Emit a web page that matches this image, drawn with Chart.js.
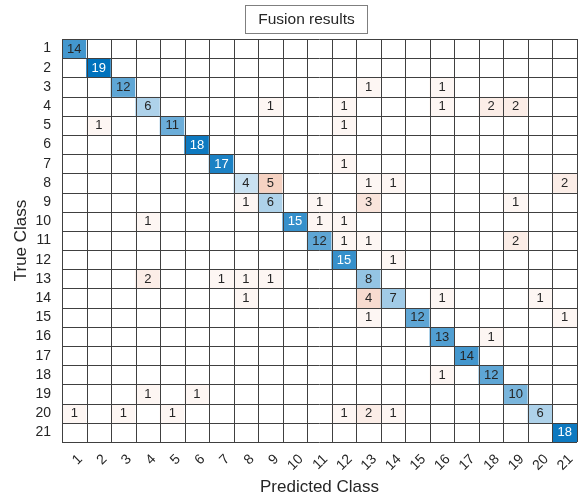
<!DOCTYPE html>
<html>
<head>
<meta charset="utf-8">
<script src="https://cdn.jsdelivr.net/npm/chart.js@4.4.1/dist/chart.umd.min.js"></script>
<style>
  html, body { margin: 0; padding: 0; background: #fff; }
  #wrap { position: relative; width: 580px; height: 498px; }
</style>
</head>
<body>
<div id="wrap"><canvas id="cm"></canvas></div>
<script>
// Clases (etiquetas de ambos ejes)
const classLabels = ['1','2','3','4','5','6','7','8','9','10','11','12','13','14','15','16','17','18','19','20','21'];
const chartTitle = 'Fusion results';
const xTitle = 'Predicted Class';
const yTitle = 'True Class';

// Matriz de confusión: fila = clase real, columna = clase predicha
const counts = [
  [14,0,0,0,0,0,0,0,0,0,0,0,0,0,0,0,0,0,0,0,0],
  [0,19,0,0,0,0,0,0,0,0,0,0,0,0,0,0,0,0,0,0,0],
  [0,0,12,0,0,0,0,0,0,0,0,0,1,0,0,1,0,0,0,0,0],
  [0,0,0,6,0,0,0,0,1,0,0,1,0,0,0,1,0,2,2,0,0],
  [0,1,0,0,11,0,0,0,0,0,0,1,0,0,0,0,0,0,0,0,0],
  [0,0,0,0,0,18,0,0,0,0,0,0,0,0,0,0,0,0,0,0,0],
  [0,0,0,0,0,0,17,0,0,0,0,1,0,0,0,0,0,0,0,0,0],
  [0,0,0,0,0,0,0,4,5,0,0,0,1,1,0,0,0,0,0,0,2],
  [0,0,0,0,0,0,0,1,6,0,1,0,3,0,0,0,0,0,1,0,0],
  [0,0,0,1,0,0,0,0,0,15,1,1,0,0,0,0,0,0,0,0,0],
  [0,0,0,0,0,0,0,0,0,0,12,1,1,0,0,0,0,0,2,0,0],
  [0,0,0,0,0,0,0,0,0,0,0,15,0,1,0,0,0,0,0,0,0],
  [0,0,0,2,0,0,1,1,1,0,0,0,8,0,0,0,0,0,0,0,0],
  [0,0,0,0,0,0,0,1,0,0,0,0,4,7,0,1,0,0,0,1,0],
  [0,0,0,0,0,0,0,0,0,0,0,0,1,0,12,0,0,0,0,0,1],
  [0,0,0,0,0,0,0,0,0,0,0,0,0,0,0,13,0,1,0,0,0],
  [0,0,0,0,0,0,0,0,0,0,0,0,0,0,0,0,14,0,0,0,0],
  [0,0,0,0,0,0,0,0,0,0,0,0,0,0,0,1,0,12,0,0,0],
  [0,0,0,1,0,1,0,0,0,0,0,0,0,0,0,0,0,0,10,0,0],
  [1,0,1,0,1,0,0,0,0,0,0,1,2,1,0,0,0,0,0,6,0],
  [0,0,0,0,0,0,0,0,0,0,0,0,0,0,0,0,0,0,0,0,18]
];

const diagRGB = [0, 114, 189];
const offRGB = [217, 83, 25];
const maxCount = Math.max(...counts.flat());
const FONT = "'Liberation Sans', Arial, sans-serif";
const TXT = '#262626';

function cellColor(v, isDiag) {
  if (!v) return '#ffffff';
  const t = v / maxCount;
  const base = isDiag ? diagRGB : offRGB;
  const c = base.map(b => Math.round(255 - t * (255 - b)));
  return `rgb(${c[0]},${c[1]},${c[2]})`;
}

// Una serie por fila (clase real), barras flotantes de altura 1
const datasets = counts.map((row, r) => ({
  label: 'True ' + classLabels[r],
  data: row.map(() => [r, r + 1]),
  backgroundColor: row.map((v, c) => cellColor(v, r === c)),
  borderWidth: 0,
  barPercentage: 1,
  categoryPercentage: 1,
  grouped: false
}));

// Rejilla y números de cada celda
const cellPlugin = {
  id: 'cellPlugin',
  afterDatasetsDraw(chart) {
    const ctx = chart.ctx;
    const xs = chart.scales.x, ys = chart.scales.y;
    const n = classLabels.length;
    ctx.save();
    // números
    ctx.font = '13px ' + FONT;
    ctx.textAlign = 'center';
    ctx.textBaseline = 'middle';
    counts.forEach((row, r) => {
      const meta = chart.getDatasetMeta(r);
      row.forEach((v, c) => {
        if (!v) return;
        const p = meta.data[c].getCenterPoint();
        ctx.fillStyle = (v / maxCount > 0.75) ? '#ffffff' : TXT;
        ctx.fillText(String(v), p.x, p.y + 0.5);
      });
    });
    // líneas
    ctx.strokeStyle = '#404040';
    ctx.lineWidth = 1;
    ctx.beginPath();
    for (let i = 0; i <= n; i++) {
      const x = Math.round(xs.getPixelForValue(i - 0.5)) + 0.5;
      ctx.moveTo(x, ys.getPixelForValue(0));
      ctx.lineTo(x, ys.getPixelForValue(n));
      const y = Math.round(ys.getPixelForValue(i)) + 0.5;
      ctx.moveTo(xs.getPixelForValue(-0.5), y);
      ctx.lineTo(xs.getPixelForValue(n - 0.5), y);
    }
    ctx.stroke();
    ctx.restore();
  }
};

// Título con recuadro
const boxTitle = {
  id: 'boxTitle',
  afterDraw(chart) {
    const ctx = chart.ctx;
    const a = chart.chartArea;
    const cx = (a.left + a.right) / 2 - 13;
    ctx.save();
    ctx.font = '15.5px ' + FONT;
    const w = ctx.measureText(chartTitle).width + 26;
    ctx.fillStyle = '#fff';
    ctx.strokeStyle = '#7f7f7f';
    ctx.lineWidth = 1;
    ctx.fillRect(Math.round(cx - w / 2) + 0.5, 5.5, Math.round(w), 28);
    ctx.strokeRect(Math.round(cx - w / 2) + 0.5, 5.5, Math.round(w), 28);
    ctx.fillStyle = TXT;
    ctx.textAlign = 'center';
    ctx.textBaseline = 'middle';
    ctx.fillText(chartTitle, cx, 19.5);
    ctx.restore();
  }
};

new Chart(document.getElementById('cm'), {
  type: 'bar',
  data: { labels: classLabels, datasets },
  options: {
    responsive: true,
    maintainAspectRatio: false,
    animation: false,
    layout: { padding: { top: 39, right: 3, left: 0, bottom: 0 } },
    plugins: { legend: { display: false }, tooltip: { enabled: false }, title: { display: false } },
    scales: {
      x: {
        type: 'category',
        offset: true,
        grid: { display: false },
        border: { display: false },
        ticks: {
          autoSkip: false, minRotation: 45, maxRotation: 45,
          color: TXT, font: { family: FONT, size: 14 }, padding: 1, labelOffset: 6
        },
        title: { display: true, text: xTitle, color: TXT, font: { family: FONT, size: 17 }, padding: { top: 0, bottom: 0 } },
        afterFit(s) { s.height = 56; }
      },
      y: {
        type: 'linear',
        min: 0, max: classLabels.length,
        reverse: true,
        grid: { display: false },
        border: { display: false },
        afterBuildTicks(s) { s.ticks = classLabels.map((_, i) => ({ value: i + 0.5 })); },
        ticks: {
          color: TXT, font: { family: FONT, size: 14 }, padding: 3,
          callback: (v) => classLabels[Math.round(v - 0.5)]
        },
        title: { display: true, text: yTitle, color: TXT, font: { family: FONT, size: 17 }, padding: { top: 11, bottom: 0 } },
        afterFit(s) { s.width = 62; }
      }
    }
  },
  plugins: [cellPlugin, boxTitle]
});
</script>
</body>
</html>
